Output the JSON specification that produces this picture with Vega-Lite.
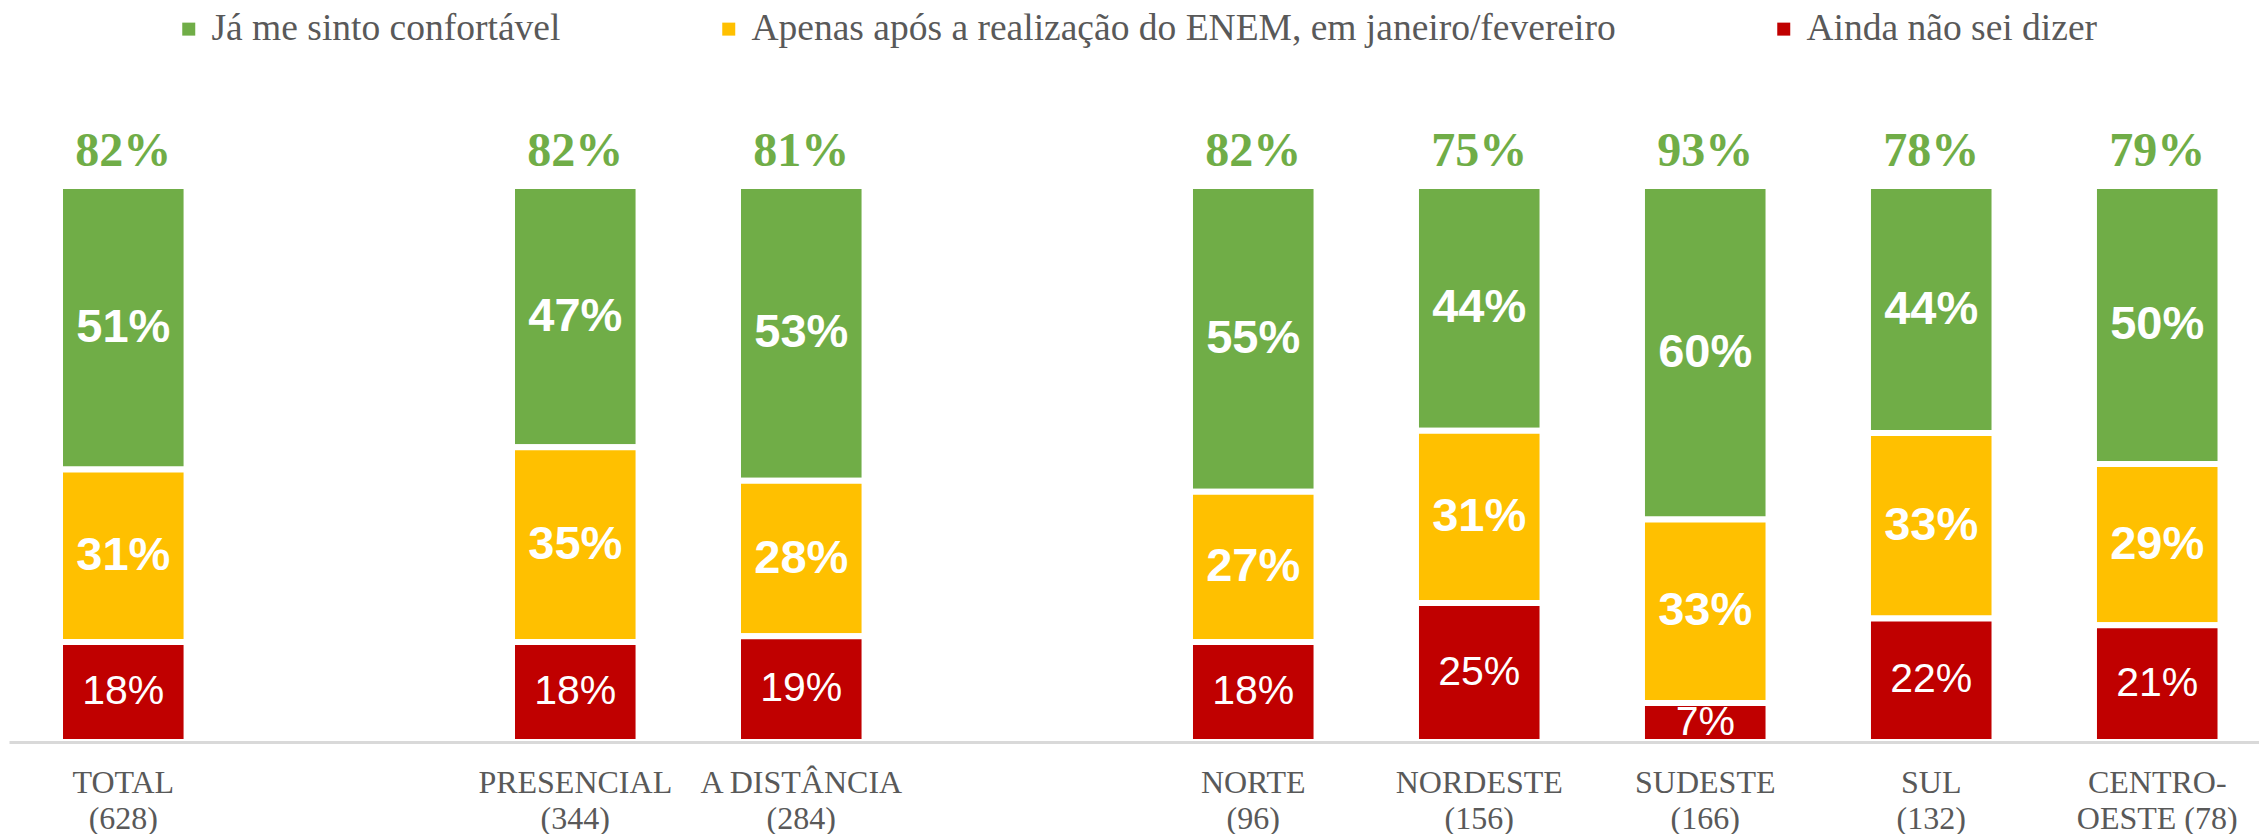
{
  "$schema": "https://vega.github.io/schema/vega-lite/v6.json",
  "autosize": {"type": "none"},
  "width": 2250,
  "height": 556,
  "padding": {"left": 9, "top": 186, "right": 0, "bottom": 92},
  "background": "white",
  "config": {"view": {"stroke": null}},
  "datasets": {
    "seg": [
      {"cat": "TOTAL|(628)", "serie": "Já me sinto confortável", "v": 0.51},
      {"cat": "TOTAL|(628)", "serie": "Apenas após a realização do ENEM, em janeiro/fevereiro", "v": 0.31},
      {"cat": "TOTAL|(628)", "serie": "Ainda não sei dizer", "v": 0.18},
      {"cat": "PRESENCIAL|(344)", "serie": "Já me sinto confortável", "v": 0.47},
      {"cat": "PRESENCIAL|(344)", "serie": "Apenas após a realização do ENEM, em janeiro/fevereiro", "v": 0.35},
      {"cat": "PRESENCIAL|(344)", "serie": "Ainda não sei dizer", "v": 0.18},
      {"cat": "A DISTÂNCIA|(284)", "serie": "Já me sinto confortável", "v": 0.53},
      {"cat": "A DISTÂNCIA|(284)", "serie": "Apenas após a realização do ENEM, em janeiro/fevereiro", "v": 0.28},
      {"cat": "A DISTÂNCIA|(284)", "serie": "Ainda não sei dizer", "v": 0.19},
      {"cat": "NORTE|(96)", "serie": "Já me sinto confortável", "v": 0.55},
      {"cat": "NORTE|(96)", "serie": "Apenas após a realização do ENEM, em janeiro/fevereiro", "v": 0.27},
      {"cat": "NORTE|(96)", "serie": "Ainda não sei dizer", "v": 0.18},
      {"cat": "NORDESTE|(156)", "serie": "Já me sinto confortável", "v": 0.44},
      {"cat": "NORDESTE|(156)", "serie": "Apenas após a realização do ENEM, em janeiro/fevereiro", "v": 0.31},
      {"cat": "NORDESTE|(156)", "serie": "Ainda não sei dizer", "v": 0.25},
      {"cat": "SUDESTE|(166)", "serie": "Já me sinto confortável", "v": 0.60},
      {"cat": "SUDESTE|(166)", "serie": "Apenas após a realização do ENEM, em janeiro/fevereiro", "v": 0.33},
      {"cat": "SUDESTE|(166)", "serie": "Ainda não sei dizer", "v": 0.07},
      {"cat": "SUL|(132)", "serie": "Já me sinto confortável", "v": 0.44},
      {"cat": "SUL|(132)", "serie": "Apenas após a realização do ENEM, em janeiro/fevereiro", "v": 0.33},
      {"cat": "SUL|(132)", "serie": "Ainda não sei dizer", "v": 0.22},
      {"cat": "CENTRO-|OESTE (78)", "serie": "Já me sinto confortável", "v": 0.50},
      {"cat": "CENTRO-|OESTE (78)", "serie": "Apenas após a realização do ENEM, em janeiro/fevereiro", "v": 0.29},
      {"cat": "CENTRO-|OESTE (78)", "serie": "Ainda não sei dizer", "v": 0.21}
    ],
    "tot": [
      {"cat": "TOTAL|(628)", "top": 0.82},
      {"cat": "PRESENCIAL|(344)", "top": 0.82},
      {"cat": "A DISTÂNCIA|(284)", "top": 0.81},
      {"cat": "NORTE|(96)", "top": 0.82},
      {"cat": "NORDESTE|(156)", "top": 0.75},
      {"cat": "SUDESTE|(166)", "top": 0.93},
      {"cat": "SUL|(132)", "top": 0.78},
      {"cat": "CENTRO-|OESTE (78)", "top": 0.79}
    ]
  },
  "encoding": {
    "x": {
      "field": "cat",
      "type": "nominal",
      "scale": {
        "domain": ["TOTAL|(628)", " ", "PRESENCIAL|(344)", "A DISTÂNCIA|(284)", "  ", "NORTE|(96)", "NORDESTE|(156)", "SUDESTE|(166)", "SUL|(132)", "CENTRO-|OESTE (78)"],
        "paddingInner": 0.44,
        "paddingOuter": 0.198,
        "align": 0.57
      },
      "axis": {
        "title": null,
        "labelAngle": 0,
        "labelExpr": "split(datum.label, '|')",
        "labelFont": "Liberation Serif",
        "labelFontSize": 32,
        "labelLineHeight": 36,
        "labelColor": "#595959",
        "labelPadding": 25,
        "labelOverlap": false,
        "labelBound": false,
        "labelLimit": 500,
        "ticks": false,
        "tickSize": 0,
        "domainColor": "#d9d9d9",
        "domainWidth": 3,
        "zindex": 1
      }
    }
  },
  "layer": [
    {
      "data": {"name": "seg"},
      "transform": [
        {"stack": "v", "groupby": ["cat"], "sort": [{"field": "serie", "order": "ascending"}], "offset": "normalize", "as": ["y0", "y1"]}
      ],
      "mark": {"type": "bar", "stroke": "white", "strokeWidth": 6},
      "encoding": {
        "y": {"field": "y1", "type": "quantitative", "scale": {"domain": [0, 1]}, "axis": null},
        "y2": {"field": "y0"},
        "color": {
          "field": "serie",
          "type": "nominal",
          "scale": {
            "domain": ["Já me sinto confortável", "Apenas após a realização do ENEM, em janeiro/fevereiro", "Ainda não sei dizer"],
            "range": ["#70ad47", "#ffc000", "#c00000"]
          },
          "legend": {
            "title": null,
            "orient": "none",
            "direction": "horizontal",
            "legendX": 161,
            "legendY": -176,
            "symbolType": "square",
            "symbolSize": 169,
            "symbolStrokeWidth": 0,
            "labelFont": "Liberation Serif",
            "labelFontSize": 37.5,
            "labelColor": "#595959",
            "labelOffset": 4,
            "columnPadding": 149,
            "padding": 0,
            "labelLimit": 2000
          }
        }
      }
    },
    {
      "data": {"name": "seg"},
      "transform": [
        {"stack": "v", "groupby": ["cat"], "sort": [{"field": "serie", "order": "ascending"}], "offset": "normalize", "as": ["y0", "y1"]},
        {"filter": "datum.serie != 'Ainda não sei dizer'"}
      ],
      "mark": {"type": "text", "color": "white", "font": "Liberation Sans", "fontWeight": "bold", "fontSize": 47, "baseline": "middle", "align": "center", "dy": {"expr": "(datum.y1 - datum.y0) * 278"}},
      "encoding": {
        "y": {"field": "y1", "type": "quantitative"},
        "text": {"field": "v", "type": "quantitative", "format": ".0%"}
      }
    },
    {
      "data": {"name": "seg"},
      "transform": [
        {"stack": "v", "groupby": ["cat"], "sort": [{"field": "serie", "order": "ascending"}], "offset": "normalize", "as": ["y0", "y1"]},
        {"filter": "datum.serie == 'Ainda não sei dizer'"}
      ],
      "mark": {"type": "text", "color": "white", "font": "Liberation Sans", "fontSize": 41, "baseline": "middle", "align": "center", "dy": {"expr": "(datum.y1 - datum.y0) * 278"}},
      "encoding": {
        "y": {"field": "y1", "type": "quantitative"},
        "text": {"field": "v", "type": "quantitative", "format": ".0%"}
      }
    },
    {
      "data": {"name": "tot"},
      "mark": {"type": "text", "color": "#70ad47", "font": "Liberation Serif", "fontWeight": "bold", "fontSize": 48, "baseline": "alphabetic", "align": "center", "dy": -20},
      "encoding": {
        "y": {"datum": 1, "type": "quantitative"},
        "text": {"field": "top", "type": "quantitative", "format": ".0%"}
      }
    }
  ]
}
